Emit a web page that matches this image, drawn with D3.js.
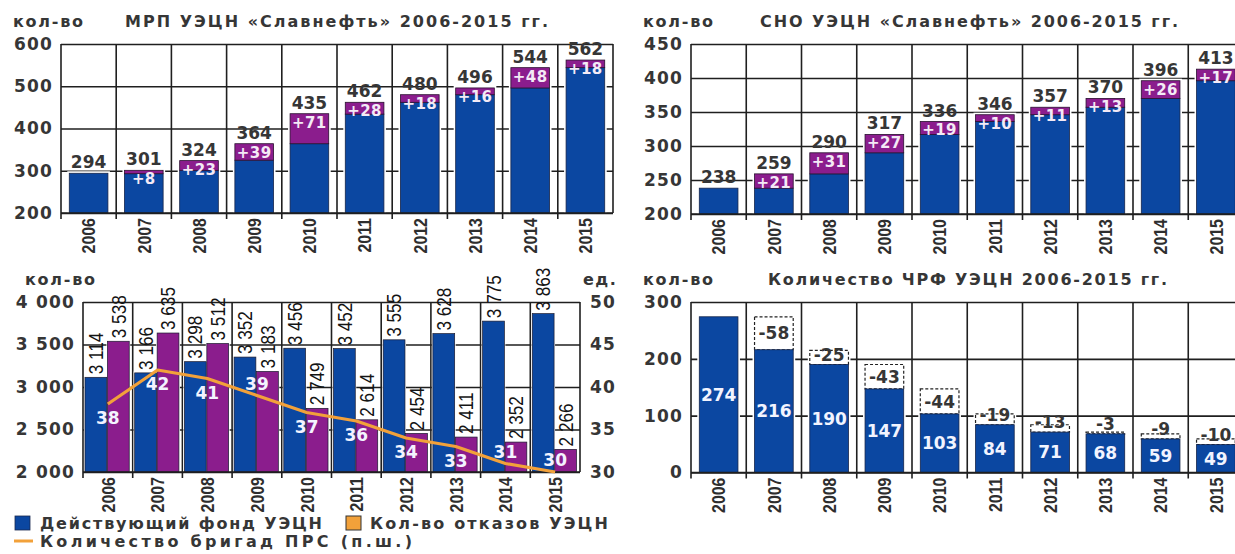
<!DOCTYPE html>
<html>
<head>
<meta charset="utf-8">
<script src="https://cdn.jsdelivr.net/npm/d3@7"></script>
<style>
  body { margin: 0; background: #fff; }
  svg { display: block; }
</style>
</head>
<body>
<svg id="chart" width="1235" height="554"></svg>
<script>
// ---- data ----
const years = [2006, 2007, 2008, 2009, 2010, 2011, 2012, 2013, 2014, 2015];

// МРП УЭЦН: total per year and its gain over the previous year
const mrpTotal = [294, 301, 324, 364, 435, 462, 480, 496, 544, 562];
const mrpGain  = [0, 8, 23, 39, 71, 28, 18, 16, 48, 18];
const mrpTicks = [200, 300, 400, 500, 600];

// СНО УЭЦН
const snoTotal = [238, 259, 290, 317, 336, 346, 357, 370, 396, 413];
const snoGain  = [0, 21, 31, 27, 19, 10, 11, 13, 26, 17];
const snoTicks = [200, 250, 300, 350, 400, 450];

// fund, failures and workover crews
const fundEsp   = [3114, 3166, 3298, 3352, 3456, 3452, 3555, 3628, 3775, 3863];
const failEsp   = [3538, 3635, 3512, 3183, 2749, 2614, 2454, 2411, 2352, 2266];
const crews     = [38, 42, 41, 39, 37, 36, 34, 33, 31, 30];
const fundTicks = [2000, 2500, 3000, 3500, 4000];
const crewTicks = [30, 35, 40, 45, 50];

// ЧРФ УЭЦН and the drop from the previous year
const chrf      = [274, 216, 190, 147, 103, 84, 71, 68, 59, 49];
const chrfDrop  = [0, -58, -25, -43, -44, -19, -13, -3, -9, -10];
const chrfTicks = [0, 100, 200, 300];

// ---- styling ----
const BLUE = "#0b47a1", PURPLE = "#8b1d8d", ORANGE = "#f2a13a";
const GRID = "#1f1f1f", TEXT = "#363636";
const SANS = "'DejaVu Sans', Verdana, sans-serif";
const ARIAL = "'Liberation Sans', Arial, sans-serif";

const ru = d3.formatLocale({decimal: ",", thousands: "\u00a0", grouping: [3], currency: ["", ""]});
const fmt = ru.format(",d");

const svg = d3.select("#chart");

function styleText(sel, size, opts = {}) {
  sel.attr("font-family", opts.family || SANS)
     .attr("font-weight", opts.weight || "bold")
     .attr("font-size", size)
     .attr("fill", opts.fill || TEXT);
  if (opts.ls) sel.attr("letter-spacing", opts.ls);
  return sel;
}

// grid, year axis and value axis of one panel
function frame(g, x, y, ticks, padLeft) {
  const [r0, r1] = x.range();
  const step = x.step();
  const [bot, top] = y.range();

  const ax = g.append("g")
    .attr("transform", `translate(${r0},0)`)
    .call(d3.axisLeft(y).tickValues(ticks).tickSize(-(r1 - r0)).tickPadding(padLeft).tickFormat(fmt));
  ax.select(".domain").remove();
  ax.selectAll(".tick line").attr("stroke", GRID).attr("stroke-width", 1.6);
  styleText(ax.selectAll(".tick text"), 17, {ls: 1.2});
  ax.attr("font-family", null).attr("font-size", null);

  g.append("g").selectAll("line")
    .data(d3.range(years.length + 1))
    .join("line")
    .attr("x1", i => r0 + i * step).attr("x2", i => r0 + i * step)
    .attr("y1", top).attr("y2", i => (i < years.length ? bot + 6 : bot))
    .attr("stroke", GRID).attr("stroke-width", 1.6);

  // condensed year labels reading bottom-to-top
  const xa = g.append("g")
    .attr("transform", `translate(0,${bot})`)
    .call(d3.axisBottom(x).tickSize(0).tickFormat(d => d));
  xa.select(".domain").remove();
  styleText(xa.selectAll(".tick text"), 19, {family: ARIAL, fill: "#2e2e2e"})
    .attr("transform", "translate(0,5) rotate(-90) scale(0.84,1)")
    .attr("text-anchor", "end")
    .attr("x", 0).attr("y", 0).attr("dy", "0.36em");
  xa.attr("font-family", null).attr("font-size", null);
}

function baseline(g, x, y) {
  const [r0, r1] = x.range();
  g.append("line").attr("x1", r0).attr("x2", r1)
    .attr("y1", y.range()[0]).attr("y2", y.range()[0])
    .attr("stroke", GRID).attr("stroke-width", 1.6);
}

function heading(x, yy, unitText, title, titleX, titleLen) {
  styleText(svg.append("text").attr("x", x).attr("y", yy).text(unitText), 16)
    .attr("textLength", 70).attr("lengthAdjust", "spacing");
  if (title) {
    styleText(svg.append("text").attr("x", titleX).attr("y", yy).text(title), 16)
      .attr("textLength", titleLen).attr("lengthAdjust", "spacing");
  }
}

// stacked "previous level + gain" bars of the top panels
function gainPanel(x, y, totals, gains, ticks, domainMin) {
  const g = svg.append("g");
  frame(g, x, y, ticks, 8);
  const rows = years.map((yr, i) => ({yr, total: totals[i], gain: gains[i]}));
  const bw = x.bandwidth();

  g.append("g").selectAll("rect").data(rows).join("rect")
    .attr("x", d => x(d.yr) - 2).attr("width", bw + 4)
    .attr("y", d => y(d.total) - 2).attr("height", d => y(domainMin) - y(d.total) + 2)
    .attr("fill", "#fff");

  g.append("g").selectAll("rect").data(rows).join("rect")
    .attr("x", d => x(d.yr)).attr("width", bw)
    .attr("y", d => y(d.total - d.gain)).attr("height", d => y(domainMin) - y(d.total - d.gain))
    .attr("fill", BLUE).attr("stroke", "#16254a").attr("stroke-width", 0.8);

  g.append("g").selectAll("rect").data(rows.filter(d => d.gain > 0)).join("rect")
    .attr("x", d => x(d.yr)).attr("width", bw)
    .attr("y", d => y(d.total)).attr("height", d => y(d.total - d.gain) - y(d.total))
    .attr("fill", PURPLE).attr("stroke", "#2a1030").attr("stroke-width", 0.8);

  baseline(g, x, y);

  styleText(g.append("g").selectAll("text").data(rows).join("text"), 17)
    .attr("x", d => x(d.yr) + bw / 2).attr("y", d => y(d.total) - 5)
    .attr("text-anchor", "middle").text(d => d.total);

  styleText(g.append("g").selectAll("text").data(rows.filter(d => d.gain > 0)).join("text"), 15, {fill: "#f4eaf6", ls: 0.4})
    .attr("x", d => x(d.yr) + bw / 2).attr("y", d => y(d.total) + 8.5)
    .attr("dy", "0.36em").attr("text-anchor", "middle").text(d => "+" + d.gain);
}

// ---- МРП УЭЦН ----
const xTL = d3.scaleBand().domain(years).range([61, 613]).paddingInner(0.3).paddingOuter(0.15);
const yTL = d3.scaleLinear().domain([200, 600]).range([213, 44]);
gainPanel(xTL, yTL, mrpTotal, mrpGain, mrpTicks, 200);
heading(13, 27, "кол-во", "МРП УЭЦН «Славнефть» 2006-2015 гг.", 125, 423);

// ---- СНО УЭЦН ----
const xTR = d3.scaleBand().domain(years).range([691, 1243.5]).paddingInner(0.3).paddingOuter(0.15);
const yTR = d3.scaleLinear().domain([200, 450]).range([214, 44]);
gainPanel(xTR, yTR, snoTotal, snoGain, snoTicks, 200);
heading(643, 27, "кол-во", "СНО УЭЦН «Славнефть» 2006-2015 гг.", 760, 418);

// ---- fund / failures / crews ----
{
  const x = d3.scaleBand().domain(years).range([83, 580]);
  const y = d3.scaleLinear().domain([2000, 4000]).range([472, 302]);
  const yR = d3.scaleLinear().domain([30, 50]).range([472, 302]);
  const step = x.step();
  const sub = d3.scaleBand().domain(["fund", "fail"]).range([step * 0.04, step * 0.93]).paddingInner(0.03);
  const g = svg.append("g");
  frame(g, x, y, fundTicks, 8);

  const ra = g.append("g").attr("transform", `translate(${x.range()[1]},0)`)
    .call(d3.axisRight(yR).tickValues(crewTicks).tickSize(0).tickPadding(10));
  ra.select(".domain").remove();
  styleText(ra.selectAll(".tick text"), 17, {ls: 1.2});
  ra.attr("font-family", null).attr("font-size", null);

  const bars = [];
  years.forEach((yr, i) => {
    bars.push({yr, key: "fund", v: fundEsp[i]});
    bars.push({yr, key: "fail", v: failEsp[i]});
  });
  const bx = d => x(d.yr) + sub(d.key);

  g.append("g").selectAll("rect").data(bars).join("rect")
    .attr("x", d => bx(d) - 1).attr("width", sub.bandwidth() + 2)
    .attr("y", d => y(d.v) - 1.5).attr("height", d => y(2000) - y(d.v) + 1.5)
    .attr("fill", "#fff");
  g.append("g").selectAll("rect").data(bars).join("rect")
    .attr("x", bx).attr("width", sub.bandwidth())
    .attr("y", d => y(d.v)).attr("height", d => y(2000) - y(d.v))
    .attr("fill", d => (d.key === "fund" ? BLUE : PURPLE))
    .attr("stroke", "#1a1a2e").attr("stroke-width", 0.7);
  baseline(g, x, y);

  // vertical value labels standing on each bar
  styleText(g.append("g").selectAll("text").data(bars).join("text"), 20, {family: ARIAL, weight: "normal", fill: "#141414"})
    .attr("transform", d => `translate(${bx(d) + sub.bandwidth() / 2},${y(d.v) - 3}) rotate(-90) scale(0.86,1)`)
    .attr("dy", "0.36em").text(d => fmt(d.v));

  const line = d3.line().x((d, i) => x(years[i]) + step / 2).y(d => yR(d));
  g.append("path").datum(crews).attr("d", line)
    .attr("fill", "none").attr("stroke", ORANGE).attr("stroke-width", 3.2)
    .attr("stroke-linejoin", "round");

  // crews label sits under the line, or over it where the line runs low
  const labelSide = [1, 1, 1, -1, 1, 1, 1, 1, -1, -1];
  styleText(g.append("g").selectAll("text").data(crews).join("text"), 17, {fill: "#f3f3ff"})
    .attr("x", (d, i) => x(years[i]) + step / 2)
    .attr("y", (d, i) => yR(d) + (labelSide[i] > 0 ? 14 : -12))
    .attr("dy", "0.36em").attr("text-anchor", "middle").text(d => d);

  heading(25, 285, "кол-во", null);
  styleText(svg.append("text").attr("x", 583).attr("y", 285).text("ед."), 16, {ls: 1.5});
}

// ---- ЧРФ УЭЦН ----
{
  const x = d3.scaleBand().domain(years).range([691, 1243.5]).paddingInner(0.3).paddingOuter(0.15);
  const y = d3.scaleLinear().domain([0, 300]).range([472.5, 302]);
  const g = svg.append("g");
  frame(g, x, y, chrfTicks, 8);
  const bw = x.bandwidth();
  const rows = years.map((yr, i) => ({yr, v: chrf[i], drop: chrfDrop[i]}));
  const drops = rows.filter(d => d.drop < 0);

  g.append("g").selectAll("rect").data(rows).join("rect")
    .attr("x", d => x(d.yr) - 2).attr("width", bw + 4)
    .attr("y", d => y(d.v - d.drop) - 2).attr("height", d => y(0) - y(d.v - d.drop) + 2)
    .attr("fill", "#fff");

  g.append("g").selectAll("rect").data(drops).join("rect")
    .attr("x", d => x(d.yr)).attr("width", bw)
    .attr("y", d => y(d.v - d.drop)).attr("height", d => y(d.v) - y(d.v - d.drop))
    .attr("fill", "#fff").attr("stroke", "#222").attr("stroke-width", 1.2)
    .attr("stroke-dasharray", "3,2");

  g.append("g").selectAll("rect").data(rows).join("rect")
    .attr("x", d => x(d.yr)).attr("width", bw)
    .attr("y", d => y(d.v)).attr("height", d => y(0) - y(d.v))
    .attr("fill", BLUE).attr("stroke", "#16254a").attr("stroke-width", 0.8);
  baseline(g, x, y);

  styleText(g.append("g").selectAll("text").data(rows).join("text"), 17, {fill: "#f2f4ff"})
    .attr("x", d => x(d.yr) + bw / 2).attr("y", d => (y(d.v) + y(0)) / 2)
    .attr("dy", "0.36em").attr("text-anchor", "middle").text(d => d.v);

  styleText(g.append("g").selectAll("text").data(drops).join("text"), 17)
    .attr("x", d => x(d.yr) + bw / 2)
    .attr("y", d => Math.min((y(d.v) + y(d.v - d.drop)) / 2, y(d.v) - 10))
    .attr("dy", "0.36em").attr("text-anchor", "middle").text(d => "-" + Math.abs(d.drop));

  heading(643, 285, "кол-во", "Количество ЧРФ УЭЦН 2006-2015 гг.", 768, 399);
}

// ---- legend ----
{
  const lg = svg.append("g");
  lg.append("rect").attr("x", 15).attr("y", 516).attr("width", 15).attr("height", 14)
    .attr("fill", BLUE).attr("stroke", "#1a2a50").attr("stroke-width", 0.8);
  styleText(lg.append("text").attr("x", 40).attr("y", 529).text("Действующий фонд УЭЦН"), 16)
    .attr("textLength", 282).attr("lengthAdjust", "spacing");
  lg.append("rect").attr("x", 346).attr("y", 516).attr("width", 15).attr("height", 14)
    .attr("fill", ORANGE).attr("stroke", "#333").attr("stroke-width", 1);
  styleText(lg.append("text").attr("x", 370).attr("y", 529).text("Кол-во отказов УЭЦН"), 16)
    .attr("textLength", 238).attr("lengthAdjust", "spacing");
  lg.append("line").attr("x1", 14).attr("x2", 33).attr("y1", 541).attr("y2", 541)
    .attr("stroke", ORANGE).attr("stroke-width", 3);
  styleText(lg.append("text").attr("x", 40).attr("y", 547).text("Количество бригад ПРС (п.ш.)"), 16)
    .attr("textLength", 372).attr("lengthAdjust", "spacing");
}
</script>
</body>
</html>
